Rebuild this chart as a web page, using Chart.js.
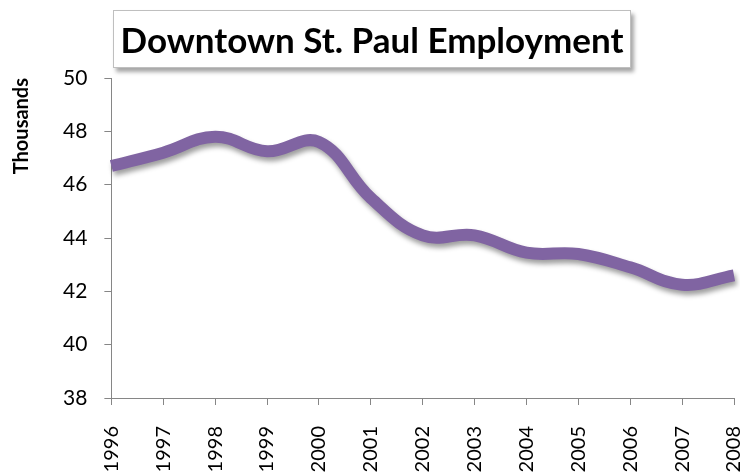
<!DOCTYPE html>
<html lang="en">
<head>
    <meta charset="UTF-8">
    <title>Downtown St. Paul Employment</title>
    <script src="https://cdn.jsdelivr.net/npm/chart.js"></script>
    <style>
        body {
            margin: 0;
            padding: 0;
            background: #fff;
        }
        .wrap {
            position: relative;
            width: 745px;
            height: 473px;
        }
        .title-box {
            position: absolute;
            left: 113px;
            top: 10px;
            width: 516px;
            height: 56px;
            border: 1px solid #bfbfbf;
            background: #fff;
            box-shadow: 3px 4px 4px rgba(0, 0, 0, 0.35);
            font-family: 'Lato', sans-serif;
            font-weight: bold;
            font-size: 35px;
            line-height: 56px;
            text-align: center;
            color: #000;
            z-index: 2;
        }
        canvas {
            position: absolute;
            left: 0;
            top: 0;
        }
    </style>
</head>
<body>
    <div class="wrap">
        <canvas id="empChart" width="745" height="473"></canvas>
        <div class="title-box">Downtown St. Paul Employment</div>
    </div>

    <script>
        // datos (miles de empleos)
        const years = ['1996', '1997', '1998', '1999', '2000', '2001', '2002',
                       '2003', '2004', '2005', '2006', '2007', '2008'];
        const employment = [46.7, 47.2, 47.8, 47.25, 47.6, 45.5, 44.1,
                            44.1, 43.45, 43.4, 42.9, 42.25, 42.6];

        const yMin = 38;
        const yMax = 50;
        const yStep = 2;

        // sombra bajo la línea, como en Excel
        const lineShadow = {
            id: 'lineShadow',
            beforeDatasetDraw(chart) {
                const ctx = chart.ctx;
                ctx.save();
                ctx.shadowColor = 'rgba(0, 0, 0, 0.38)';
                ctx.shadowBlur = 5;
                ctx.shadowOffsetX = 2;
                ctx.shadowOffsetY = 4;
            },
            afterDatasetDraw(chart) {
                chart.ctx.restore();
            }
        };

        const axisColor = '#868686';
        const tickFont = { family: 'Lato', size: 21 };

        new Chart(document.getElementById('empChart'), {
            type: 'line',
            data: {
                labels: years,
                datasets: [{
                    label: 'Employment',
                    data: employment,
                    borderColor: '#8064a2',
                    borderWidth: 12,
                    borderCapStyle: 'butt',
                    tension: 0.4,
                    pointRadius: 0,
                    fill: false
                }]
            },
            options: {
                responsive: false,
                animation: false,
                layout: {
                    padding: { top: 78, right: 11, left: 6, bottom: 0 }
                },
                plugins: {
                    legend: { display: false },
                    tooltip: { enabled: false }
                },
                scales: {
                    x: {
                        offset: false,
                        grid: {
                            display: true,
                            drawOnChartArea: false,
                            tickLength: 7,
                            color: axisColor
                        },
                        border: { color: axisColor, width: 1 },
                        ticks: {
                            color: '#000',
                            font: { family: 'Lato', size: 20 },
                            minRotation: 90,
                            maxRotation: 90,
                            padding: 21,
                            autoSkip: false
                        },
                        // las etiquetas giradas reservan demasiado espacio
                        afterFit(scale) {
                            scale.height = 75;
                            scale.paddingRight = 0;
                            scale.paddingLeft = 0;
                        }
                    },
                    y: {
                        min: yMin,
                        max: yMax,
                        grid: {
                            display: true,
                            drawOnChartArea: false,
                            tickLength: 7,
                            color: axisColor
                        },
                        border: { color: axisColor, width: 1 },
                        ticks: {
                            stepSize: yStep,
                            color: '#000',
                            font: tickFont,
                            padding: 17
                        },
                        title: {
                            display: true,
                            text: 'Thousands',
                            align: 'end',
                            color: '#000',
                            font: { family: 'Lato', size: 20, weight: 'bold' },
                            padding: { bottom: 12 }
                        }
                    }
                }
            },
            plugins: [lineShadow]
        });
    </script>
</body>
</html>
